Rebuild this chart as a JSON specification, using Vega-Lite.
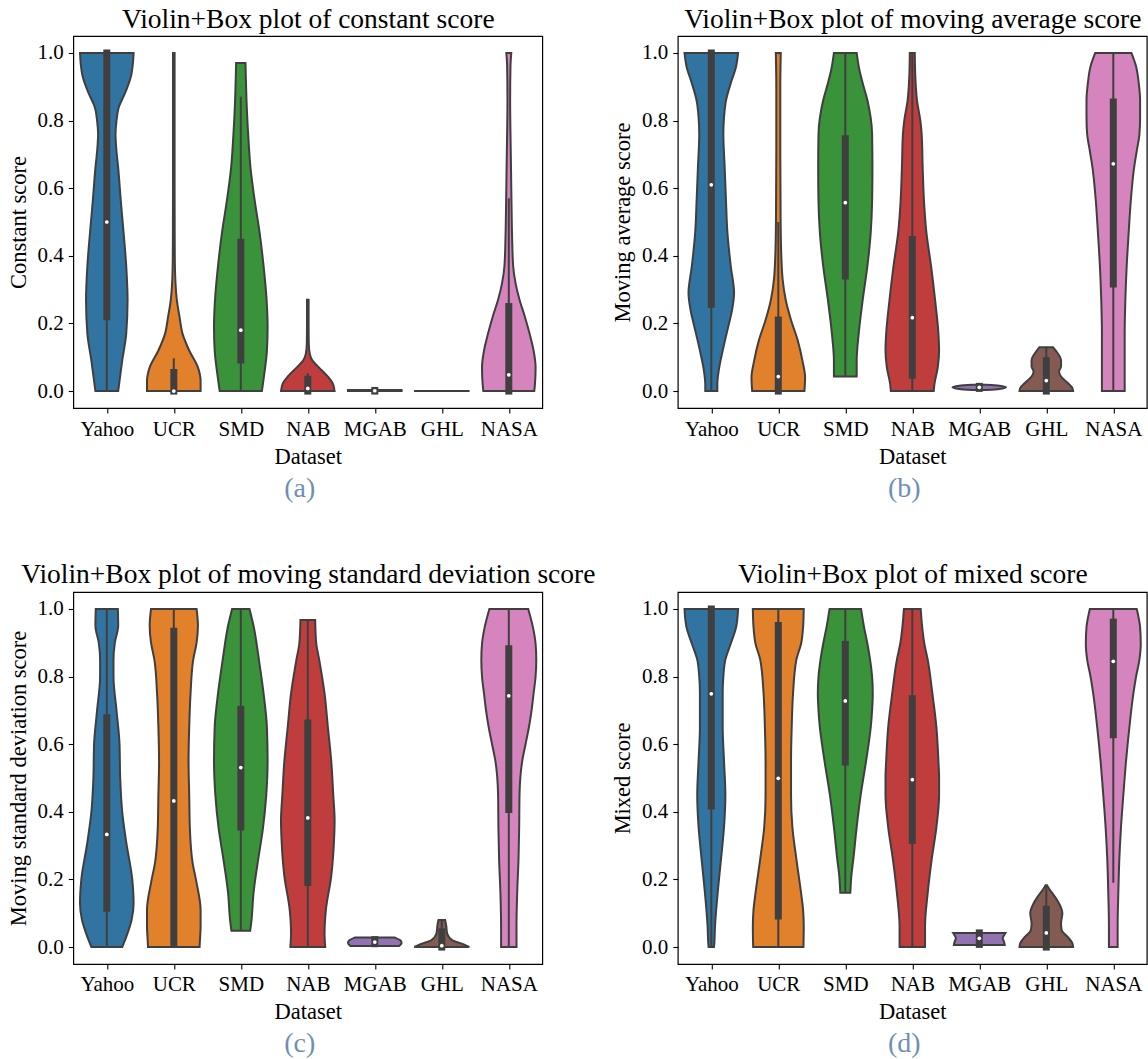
{
  "$schema": "https://vega.github.io/schema/vega-lite/v6.json",
  "padding": {"left": 6.3, "top": 4, "right": 1, "bottom": 5},
  "background": "white",
  "config": {
    "font": "Liberation Serif",
    "axis": {"labelFont": "Liberation Serif", "titleFont": "Liberation Serif", "labelFontSize": 21, "titleFontSize": 22.5, "titleFontWeight": "normal", "labelColor": "#000", "titleColor": "#000", "tickColor": "#000", "tickWidth": 1.1, "domain": false, "grid": false},
    "axisY": {"title": null},
    "view": {"stroke": "#000", "strokeWidth": 1.2}
  },
  "datasets": {
    "v": [
      {"p":"a","d":"Yahoo","y":1,"w":0.40},{"p":"a","d":"Yahoo","y":0.97,"w":0.39},{"p":"a","d":"Yahoo","y":0.93,"w":0.36},{"p":"a","d":"Yahoo","y":0.88,"w":0.27},{"p":"a","d":"Yahoo","y":0.84,"w":0.18},{"p":"a","d":"Yahoo","y":0.80,"w":0.145},{"p":"a","d":"Yahoo","y":0.76,"w":0.13},{"p":"a","d":"Yahoo","y":0.72,"w":0.14},{"p":"a","d":"Yahoo","y":0.66,"w":0.17},{"p":"a","d":"Yahoo","y":0.56,"w":0.21},{"p":"a","d":"Yahoo","y":0.47,"w":0.25},{"p":"a","d":"Yahoo","y":0.37,"w":0.29},{"p":"a","d":"Yahoo","y":0.27,"w":0.31},{"p":"a","d":"Yahoo","y":0.17,"w":0.29},{"p":"a","d":"Yahoo","y":0.09,"w":0.23},{"p":"a","d":"Yahoo","y":0.03,"w":0.19},{"p":"a","d":"Yahoo","y":0,"w":0.17},
      {"p":"a","d":"UCR","y":1,"w":0.012},{"p":"a","d":"UCR","y":0.6,"w":0.012},{"p":"a","d":"UCR","y":0.4,"w":0.015},{"p":"a","d":"UCR","y":0.32,"w":0.025},{"p":"a","d":"UCR","y":0.27,"w":0.045},{"p":"a","d":"UCR","y":0.22,"w":0.085},{"p":"a","d":"UCR","y":0.17,"w":0.13},{"p":"a","d":"UCR","y":0.12,"w":0.23},{"p":"a","d":"UCR","y":0.07,"w":0.36},{"p":"a","d":"UCR","y":0.03,"w":0.40},{"p":"a","d":"UCR","y":0,"w":0.40},
      {"p":"a","d":"SMD","y":0.97,"w":0.07},{"p":"a","d":"SMD","y":0.93,"w":0.075},{"p":"a","d":"SMD","y":0.86,"w":0.085},{"p":"a","d":"SMD","y":0.76,"w":0.11},{"p":"a","d":"SMD","y":0.66,"w":0.145},{"p":"a","d":"SMD","y":0.56,"w":0.21},{"p":"a","d":"SMD","y":0.47,"w":0.28},{"p":"a","d":"SMD","y":0.37,"w":0.34},{"p":"a","d":"SMD","y":0.27,"w":0.385},{"p":"a","d":"SMD","y":0.19,"w":0.40},{"p":"a","d":"SMD","y":0.12,"w":0.39},{"p":"a","d":"SMD","y":0.05,"w":0.35},{"p":"a","d":"SMD","y":0,"w":0.315},
      {"p":"a","d":"NAB","y":0.27,"w":0.012},{"p":"a","d":"NAB","y":0.2,"w":0.012},{"p":"a","d":"NAB","y":0.14,"w":0.015},{"p":"a","d":"NAB","y":0.11,"w":0.03},{"p":"a","d":"NAB","y":0.09,"w":0.07},{"p":"a","d":"NAB","y":0.073,"w":0.15},{"p":"a","d":"NAB","y":0.043,"w":0.30},{"p":"a","d":"NAB","y":0.024,"w":0.37},{"p":"a","d":"NAB","y":0,"w":0.40},
      {"p":"a","d":"MGAB","y":0.003,"w":0.40},{"p":"a","d":"MGAB","y":0,"w":0.40},
      {"p":"a","d":"GHL","y":0.0005,"w":0.40},{"p":"a","d":"GHL","y":0,"w":0.40},
      {"p":"a","d":"NASA","y":1,"w":0.037},{"p":"a","d":"NASA","y":0.96,"w":0.025},{"p":"a","d":"NASA","y":0.86,"w":0.02},{"p":"a","d":"NASA","y":0.7,"w":0.03},{"p":"a","d":"NASA","y":0.56,"w":0.04},{"p":"a","d":"NASA","y":0.45,"w":0.05},{"p":"a","d":"NASA","y":0.37,"w":0.065},{"p":"a","d":"NASA","y":0.32,"w":0.10},{"p":"a","d":"NASA","y":0.27,"w":0.16},{"p":"a","d":"NASA","y":0.22,"w":0.24},{"p":"a","d":"NASA","y":0.17,"w":0.31},{"p":"a","d":"NASA","y":0.12,"w":0.37},{"p":"a","d":"NASA","y":0.07,"w":0.40},{"p":"a","d":"NASA","y":0.02,"w":0.39},{"p":"a","d":"NASA","y":0,"w":0.38},

      {"p":"b","d":"Yahoo","y":1,"w":0.40},{"p":"b","d":"Yahoo","y":0.96,"w":0.37},{"p":"b","d":"Yahoo","y":0.91,"w":0.29},{"p":"b","d":"Yahoo","y":0.86,"w":0.22},{"p":"b","d":"Yahoo","y":0.81,"w":0.19},{"p":"b","d":"Yahoo","y":0.76,"w":0.18},{"p":"b","d":"Yahoo","y":0.66,"w":0.20},{"p":"b","d":"Yahoo","y":0.56,"w":0.22},{"p":"b","d":"Yahoo","y":0.47,"w":0.24},{"p":"b","d":"Yahoo","y":0.37,"w":0.29},{"p":"b","d":"Yahoo","y":0.29,"w":0.34},{"p":"b","d":"Yahoo","y":0.24,"w":0.31},{"p":"b","d":"Yahoo","y":0.18,"w":0.24},{"p":"b","d":"Yahoo","y":0.12,"w":0.17},{"p":"b","d":"Yahoo","y":0.06,"w":0.11},{"p":"b","d":"Yahoo","y":0.02,"w":0.09},{"p":"b","d":"Yahoo","y":0,"w":0.09},
      {"p":"b","d":"UCR","y":1,"w":0.037},{"p":"b","d":"UCR","y":0.9,"w":0.03},{"p":"b","d":"UCR","y":0.7,"w":0.03},{"p":"b","d":"UCR","y":0.5,"w":0.035},{"p":"b","d":"UCR","y":0.4,"w":0.045},{"p":"b","d":"UCR","y":0.33,"w":0.065},{"p":"b","d":"UCR","y":0.27,"w":0.11},{"p":"b","d":"UCR","y":0.21,"w":0.19},{"p":"b","d":"UCR","y":0.15,"w":0.29},{"p":"b","d":"UCR","y":0.09,"w":0.36},{"p":"b","d":"UCR","y":0.04,"w":0.40},{"p":"b","d":"UCR","y":0,"w":0.39},
      {"p":"b","d":"SMD","y":1,"w":0.17},{"p":"b","d":"SMD","y":0.95,"w":0.21},{"p":"b","d":"SMD","y":0.91,"w":0.26},{"p":"b","d":"SMD","y":0.86,"w":0.33},{"p":"b","d":"SMD","y":0.76,"w":0.40},{"p":"b","d":"SMD","y":0.66,"w":0.405},{"p":"b","d":"SMD","y":0.56,"w":0.40},{"p":"b","d":"SMD","y":0.47,"w":0.38},{"p":"b","d":"SMD","y":0.37,"w":0.33},{"p":"b","d":"SMD","y":0.27,"w":0.26},{"p":"b","d":"SMD","y":0.17,"w":0.20},{"p":"b","d":"SMD","y":0.09,"w":0.17},{"p":"b","d":"SMD","y":0.043,"w":0.17},
      {"p":"b","d":"NAB","y":1,"w":0.037},{"p":"b","d":"NAB","y":0.93,"w":0.045},{"p":"b","d":"NAB","y":0.86,"w":0.07},{"p":"b","d":"NAB","y":0.80,"w":0.12},{"p":"b","d":"NAB","y":0.76,"w":0.14},{"p":"b","d":"NAB","y":0.66,"w":0.155},{"p":"b","d":"NAB","y":0.56,"w":0.175},{"p":"b","d":"NAB","y":0.47,"w":0.21},{"p":"b","d":"NAB","y":0.37,"w":0.28},{"p":"b","d":"NAB","y":0.27,"w":0.34},{"p":"b","d":"NAB","y":0.17,"w":0.39},{"p":"b","d":"NAB","y":0.12,"w":0.40},{"p":"b","d":"NAB","y":0.07,"w":0.38},{"p":"b","d":"NAB","y":0.02,"w":0.33},{"p":"b","d":"NAB","y":0,"w":0.32},
      {"p":"b","d":"MGAB","y":0.019,"w":0.10},{"p":"b","d":"MGAB","y":0.016,"w":0.30},{"p":"b","d":"MGAB","y":0.011,"w":0.40},{"p":"b","d":"MGAB","y":0.006,"w":0.30},{"p":"b","d":"MGAB","y":0.003,"w":0.10},
      {"p":"b","d":"GHL","y":0.13,"w":0.10},{"p":"b","d":"GHL","y":0.112,"w":0.17},{"p":"b","d":"GHL","y":0.092,"w":0.22},{"p":"b","d":"GHL","y":0.073,"w":0.22},{"p":"b","d":"GHL","y":0.058,"w":0.19},{"p":"b","d":"GHL","y":0.043,"w":0.22},{"p":"b","d":"GHL","y":0.024,"w":0.32},{"p":"b","d":"GHL","y":0.009,"w":0.39},{"p":"b","d":"GHL","y":0,"w":0.40},
      {"p":"b","d":"NASA","y":1,"w":0.27},{"p":"b","d":"NASA","y":0.96,"w":0.34},{"p":"b","d":"NASA","y":0.91,"w":0.38},{"p":"b","d":"NASA","y":0.86,"w":0.40},{"p":"b","d":"NASA","y":0.81,"w":0.40},{"p":"b","d":"NASA","y":0.76,"w":0.39},{"p":"b","d":"NASA","y":0.71,"w":0.35},{"p":"b","d":"NASA","y":0.66,"w":0.31},{"p":"b","d":"NASA","y":0.56,"w":0.26},{"p":"b","d":"NASA","y":0.47,"w":0.23},{"p":"b","d":"NASA","y":0.37,"w":0.20},{"p":"b","d":"NASA","y":0.27,"w":0.18},{"p":"b","d":"NASA","y":0.17,"w":0.17},{"p":"b","d":"NASA","y":0.07,"w":0.17},{"p":"b","d":"NASA","y":0,"w":0.17},

      {"p":"c","d":"Yahoo","y":1,"w":0.165},{"p":"c","d":"Yahoo","y":0.95,"w":0.17},{"p":"c","d":"Yahoo","y":0.90,"w":0.12},{"p":"c","d":"Yahoo","y":0.85,"w":0.10},{"p":"c","d":"Yahoo","y":0.80,"w":0.10},{"p":"c","d":"Yahoo","y":0.70,"w":0.145},{"p":"c","d":"Yahoo","y":0.60,"w":0.19},{"p":"c","d":"Yahoo","y":0.50,"w":0.20},{"p":"c","d":"Yahoo","y":0.40,"w":0.23},{"p":"c","d":"Yahoo","y":0.31,"w":0.29},{"p":"c","d":"Yahoo","y":0.20,"w":0.38},{"p":"c","d":"Yahoo","y":0.13,"w":0.40},{"p":"c","d":"Yahoo","y":0.08,"w":0.37},{"p":"c","d":"Yahoo","y":0.03,"w":0.29},{"p":"c","d":"Yahoo","y":0,"w":0.23},
      {"p":"c","d":"UCR","y":1,"w":0.34},{"p":"c","d":"UCR","y":0.95,"w":0.36},{"p":"c","d":"UCR","y":0.90,"w":0.34},{"p":"c","d":"UCR","y":0.85,"w":0.29},{"p":"c","d":"UCR","y":0.75,"w":0.25},{"p":"c","d":"UCR","y":0.65,"w":0.23},{"p":"c","d":"UCR","y":0.55,"w":0.22},{"p":"c","d":"UCR","y":0.45,"w":0.23},{"p":"c","d":"UCR","y":0.35,"w":0.24},{"p":"c","d":"UCR","y":0.25,"w":0.28},{"p":"c","d":"UCR","y":0.19,"w":0.34},{"p":"c","d":"UCR","y":0.11,"w":0.40},{"p":"c","d":"UCR","y":0.06,"w":0.40},{"p":"c","d":"UCR","y":0.02,"w":0.39},{"p":"c","d":"UCR","y":0,"w":0.385},
      {"p":"c","d":"SMD","y":1,"w":0.13},{"p":"c","d":"SMD","y":0.95,"w":0.19},{"p":"c","d":"SMD","y":0.85,"w":0.27},{"p":"c","d":"SMD","y":0.75,"w":0.34},{"p":"c","d":"SMD","y":0.65,"w":0.39},{"p":"c","d":"SMD","y":0.55,"w":0.40},{"p":"c","d":"SMD","y":0.45,"w":0.38},{"p":"c","d":"SMD","y":0.35,"w":0.33},{"p":"c","d":"SMD","y":0.26,"w":0.26},{"p":"c","d":"SMD","y":0.16,"w":0.19},{"p":"c","d":"SMD","y":0.08,"w":0.16},{"p":"c","d":"SMD","y":0.048,"w":0.14},
      {"p":"c","d":"NAB","y":0.967,"w":0.11},{"p":"c","d":"NAB","y":0.90,"w":0.125},{"p":"c","d":"NAB","y":0.85,"w":0.17},{"p":"c","d":"NAB","y":0.75,"w":0.25},{"p":"c","d":"NAB","y":0.65,"w":0.30},{"p":"c","d":"NAB","y":0.55,"w":0.35},{"p":"c","d":"NAB","y":0.45,"w":0.38},{"p":"c","d":"NAB","y":0.375,"w":0.40},{"p":"c","d":"NAB","y":0.31,"w":0.39},{"p":"c","d":"NAB","y":0.21,"w":0.35},{"p":"c","d":"NAB","y":0.11,"w":0.27},{"p":"c","d":"NAB","y":0.04,"w":0.25},{"p":"c","d":"NAB","y":0,"w":0.26},
      {"p":"c","d":"MGAB","y":0.028,"w":0.30},{"p":"c","d":"MGAB","y":0.02,"w":0.38},{"p":"c","d":"MGAB","y":0.013,"w":0.40},{"p":"c","d":"MGAB","y":0.006,"w":0.38},{"p":"c","d":"MGAB","y":0.003,"w":0.36},
      {"p":"c","d":"GHL","y":0.08,"w":0.05},{"p":"c","d":"GHL","y":0.065,"w":0.065},{"p":"c","d":"GHL","y":0.04,"w":0.08},{"p":"c","d":"GHL","y":0.02,"w":0.16},{"p":"c","d":"GHL","y":0.009,"w":0.31},{"p":"c","d":"GHL","y":0.001,"w":0.40},{"p":"c","d":"GHL","y":0,"w":0.41},
      {"p":"c","d":"NASA","y":1,"w":0.29},{"p":"c","d":"NASA","y":0.946,"w":0.36},{"p":"c","d":"NASA","y":0.897,"w":0.40},{"p":"c","d":"NASA","y":0.85,"w":0.41},{"p":"c","d":"NASA","y":0.80,"w":0.40},{"p":"c","d":"NASA","y":0.75,"w":0.37},{"p":"c","d":"NASA","y":0.70,"w":0.34},{"p":"c","d":"NASA","y":0.65,"w":0.30},{"p":"c","d":"NASA","y":0.60,"w":0.25},{"p":"c","d":"NASA","y":0.55,"w":0.20},{"p":"c","d":"NASA","y":0.45,"w":0.16},{"p":"c","d":"NASA","y":0.355,"w":0.155},{"p":"c","d":"NASA","y":0.26,"w":0.145},{"p":"c","d":"NASA","y":0.16,"w":0.125},{"p":"c","d":"NASA","y":0.06,"w":0.115},{"p":"c","d":"NASA","y":0,"w":0.115},

      {"p":"d","d":"Yahoo","y":1,"w":0.40},{"p":"d","d":"Yahoo","y":0.946,"w":0.37},{"p":"d","d":"Yahoo","y":0.897,"w":0.29},{"p":"d","d":"Yahoo","y":0.85,"w":0.21},{"p":"d","d":"Yahoo","y":0.80,"w":0.18},{"p":"d","d":"Yahoo","y":0.75,"w":0.17},{"p":"d","d":"Yahoo","y":0.65,"w":0.17},{"p":"d","d":"Yahoo","y":0.55,"w":0.19},{"p":"d","d":"Yahoo","y":0.45,"w":0.21},{"p":"d","d":"Yahoo","y":0.355,"w":0.19},{"p":"d","d":"Yahoo","y":0.26,"w":0.145},{"p":"d","d":"Yahoo","y":0.16,"w":0.095},{"p":"d","d":"Yahoo","y":0.06,"w":0.055},{"p":"d","d":"Yahoo","y":0.01,"w":0.045},{"p":"d","d":"Yahoo","y":0,"w":0.04},
      {"p":"d","d":"UCR","y":1,"w":0.38},{"p":"d","d":"UCR","y":0.946,"w":0.37},{"p":"d","d":"UCR","y":0.897,"w":0.34},{"p":"d","d":"UCR","y":0.85,"w":0.27},{"p":"d","d":"UCR","y":0.75,"w":0.22},{"p":"d","d":"UCR","y":0.65,"w":0.20},{"p":"d","d":"UCR","y":0.55,"w":0.19},{"p":"d","d":"UCR","y":0.45,"w":0.19},{"p":"d","d":"UCR","y":0.355,"w":0.21},{"p":"d","d":"UCR","y":0.26,"w":0.27},{"p":"d","d":"UCR","y":0.16,"w":0.34},{"p":"d","d":"UCR","y":0.11,"w":0.37},{"p":"d","d":"UCR","y":0.06,"w":0.38},{"p":"d","d":"UCR","y":0,"w":0.375},
      {"p":"d","d":"SMD","y":1,"w":0.235},{"p":"d","d":"SMD","y":0.946,"w":0.28},{"p":"d","d":"SMD","y":0.897,"w":0.33},{"p":"d","d":"SMD","y":0.85,"w":0.37},{"p":"d","d":"SMD","y":0.80,"w":0.40},{"p":"d","d":"SMD","y":0.75,"w":0.41},{"p":"d","d":"SMD","y":0.70,"w":0.40},{"p":"d","d":"SMD","y":0.65,"w":0.38},{"p":"d","d":"SMD","y":0.55,"w":0.31},{"p":"d","d":"SMD","y":0.45,"w":0.23},{"p":"d","d":"SMD","y":0.355,"w":0.17},{"p":"d","d":"SMD","y":0.26,"w":0.12},{"p":"d","d":"SMD","y":0.21,"w":0.09},{"p":"d","d":"SMD","y":0.161,"w":0.075},
      {"p":"d","d":"NAB","y":1,"w":0.125},{"p":"d","d":"NAB","y":0.897,"w":0.18},{"p":"d","d":"NAB","y":0.85,"w":0.23},{"p":"d","d":"NAB","y":0.75,"w":0.30},{"p":"d","d":"NAB","y":0.65,"w":0.36},{"p":"d","d":"NAB","y":0.55,"w":0.39},{"p":"d","d":"NAB","y":0.50,"w":0.40},{"p":"d","d":"NAB","y":0.45,"w":0.40},{"p":"d","d":"NAB","y":0.355,"w":0.36},{"p":"d","d":"NAB","y":0.26,"w":0.29},{"p":"d","d":"NAB","y":0.16,"w":0.23},{"p":"d","d":"NAB","y":0.06,"w":0.19},{"p":"d","d":"NAB","y":0,"w":0.19},
      {"p":"d","d":"MGAB","y":0.042,"w":0.39},{"p":"d","d":"MGAB","y":0.035,"w":0.37},{"p":"d","d":"MGAB","y":0.026,"w":0.35},{"p":"d","d":"MGAB","y":0.015,"w":0.37},{"p":"d","d":"MGAB","y":0.006,"w":0.38},
      {"p":"d","d":"GHL","y":0.183,"w":0.01},{"p":"d","d":"GHL","y":0.17,"w":0.05},{"p":"d","d":"GHL","y":0.158,"w":0.095},{"p":"d","d":"GHL","y":0.129,"w":0.19},{"p":"d","d":"GHL","y":0.10,"w":0.24},{"p":"d","d":"GHL","y":0.07,"w":0.22},{"p":"d","d":"GHL","y":0.05,"w":0.23},{"p":"d","d":"GHL","y":0.03,"w":0.32},{"p":"d","d":"GHL","y":0.011,"w":0.39},{"p":"d","d":"GHL","y":0,"w":0.40},
      {"p":"d","d":"NASA","y":1,"w":0.35},{"p":"d","d":"NASA","y":0.946,"w":0.40},{"p":"d","d":"NASA","y":0.897,"w":0.41},{"p":"d","d":"NASA","y":0.85,"w":0.39},{"p":"d","d":"NASA","y":0.80,"w":0.34},{"p":"d","d":"NASA","y":0.75,"w":0.30},{"p":"d","d":"NASA","y":0.65,"w":0.24},{"p":"d","d":"NASA","y":0.55,"w":0.19},{"p":"d","d":"NASA","y":0.45,"w":0.15},{"p":"d","d":"NASA","y":0.355,"w":0.115},{"p":"d","d":"NASA","y":0.26,"w":0.09},{"p":"d","d":"NASA","y":0.16,"w":0.075},{"p":"d","d":"NASA","y":0.06,"w":0.065},{"p":"d","d":"NASA","y":0,"w":0.065}
    ],
    "b": [
      {"p":"a","d":"Yahoo","q1":0.22,"q3":1,"med":0.5,"lo":0,"hi":1},
      {"p":"a","d":"UCR","q1":0,"q3":0.055,"med":0,"lo":0,"hi":0.097},
      {"p":"a","d":"SMD","q1":0.092,"q3":0.44,"med":0.18,"lo":0,"hi":0.87},
      {"p":"a","d":"NAB","q1":0,"q3":0.035,"med":0.008,"lo":0,"hi":0.053},
      {"p":"a","d":"MGAB","q1":0,"q3":0.002,"med":0.001,"lo":0,"hi":0.002},
      {"p":"a","d":"NASA","q1":0,"q3":0.25,"med":0.048,"lo":0,"hi":0.57},
      {"p":"b","d":"Yahoo","q1":0.257,"q3":1,"med":0.61,"lo":0,"hi":1},
      {"p":"b","d":"UCR","q1":0,"q3":0.21,"med":0.043,"lo":0,"hi":0.5},
      {"p":"b","d":"SMD","q1":0.34,"q3":0.746,"med":0.557,"lo":0.043,"hi":1},
      {"p":"b","d":"NAB","q1":0.047,"q3":0.448,"med":0.217,"lo":0,"hi":1},
      {"p":"b","d":"MGAB","q1":0.008,"q3":0.014,"med":0.011,"lo":0.003,"hi":0.019},
      {"p":"b","d":"GHL","q1":0,"q3":0.09,"med":0.031,"lo":0,"hi":0.13},
      {"p":"b","d":"NASA","q1":0.317,"q3":0.855,"med":0.672,"lo":0,"hi":1},
      {"p":"c","d":"Yahoo","q1":0.115,"q3":0.678,"med":0.333,"lo":0,"hi":1},
      {"p":"c","d":"UCR","q1":0.011,"q3":0.934,"med":0.432,"lo":0,"hi":1},
      {"p":"c","d":"SMD","q1":0.355,"q3":0.703,"med":0.531,"lo":0.048,"hi":1},
      {"p":"c","d":"NAB","q1":0.191,"q3":0.663,"med":0.382,"lo":0,"hi":0.967},
      {"p":"c","d":"MGAB","q1":0.01,"q3":0.022,"med":0.015,"lo":0.003,"hi":0.028},
      {"p":"c","d":"GHL","q1":0,"q3":0.045,"med":0.004,"lo":0,"hi":0.08},
      {"p":"c","d":"NASA","q1":0.407,"q3":0.882,"med":0.743,"lo":0,"hi":1},
      {"p":"d","d":"Yahoo","q1":0.417,"q3":1,"med":0.749,"lo":0,"hi":1},
      {"p":"d","d":"UCR","q1":0.092,"q3":0.951,"med":0.499,"lo":0,"hi":1},
      {"p":"d","d":"SMD","q1":0.547,"q3":0.895,"med":0.728,"lo":0.161,"hi":1},
      {"p":"d","d":"NAB","q1":0.316,"q3":0.734,"med":0.495,"lo":0,"hi":1},
      {"p":"d","d":"MGAB","q1":0.008,"q3":0.042,"med":0.026,"lo":0.006,"hi":0.042},
      {"p":"d","d":"GHL","q1":0,"q3":0.112,"med":0.042,"lo":0,"hi":0.183},
      {"p":"d","d":"NASA","q1":0.628,"q3":0.961,"med":0.845,"lo":0.19,"hi":1}
    ]
  },
  "columns": 2,
  "bounds": "flush",
  "spacing": {"row": 184, "column": 135.5},
  "concat": [
    {
      "width": 469, "height": 372,
      "title": {"text": "(a)", "orient": "bottom", "color": "#6e8fb2", "fontSize": 28, "font": "Liberation Serif", "fontWeight": "normal", "offset": 7, "frame": "group", "anchor": "middle", "dx": -8},
      "layer": [
        {"data": {"name": "v"}, "transform": [{"filter": "datum.p == 'a'"}, {"calculate": "indexof(['Yahoo','UCR','SMD','NAB','MGAB','GHL','NASA'], datum.d)", "as": "i"}, {"calculate": "datum.i - datum.w", "as": "xl"}, {"calculate": "datum.i + datum.w", "as": "xr"}],
         "mark": {"type": "area", "orient": "horizontal", "interpolate": "monotone", "stroke": "#3f3f3f", "strokeWidth": 2, "opacity": 1},
         "encoding": {
           "y": {"field": "y", "type": "quantitative", "scale": {"domain": [-0.05, 1.05], "nice": false, "zero": false}, "axis": {"orient": "left", "title": "Constant score", "values": [0,0.2,0.4,0.6,0.8,1], "format": ".1f", "tickSize": 5, "labelPadding": 5, "titlePadding": 7}},
           "x": {"field": "xl", "type": "quantitative", "scale": {"domain": [-0.5, 6.5], "nice": false, "zero": false}, "axis": {"orient": "bottom", "title": "Dataset", "values": [0,1,2,3,4,5,6], "labelExpr": "['Yahoo','UCR','SMD','NAB','MGAB','GHL','NASA'][datum.value]", "tickSize": 5, "labelPadding": 5, "titlePadding": 6, "labelFlush": false, "labelOverlap": false}},
           "x2": {"field": "xr"},
           "color": {"field": "d", "type": "nominal", "scale": {"domain": ["Yahoo","UCR","SMD","NAB","MGAB","GHL","NASA"], "range": ["#3274a1","#e1812c","#3a923a","#c03d3e","#9372b2","#845b53","#d684bd"]}, "legend": null}
         }},
        {"data": {"name": "b"}, "transform": [{"filter": "datum.p == 'a'"}, {"calculate": "indexof(['Yahoo','UCR','SMD','NAB','MGAB','GHL','NASA'], datum.d)", "as": "i"}],
         "mark": {"type": "rule", "color": "#3f3f3f", "strokeWidth": 2},
         "encoding": {
           "x": {"field": "i", "type": "quantitative", "axis": {"orient": "top", "title": "Violin+Box plot of constant score", "labels": false, "ticks": false, "domain": false, "grid": false, "titleFontSize": 27.5, "titlePadding": 9, "titleBaseline": "alphabetic", "minExtent": 0, "maxExtent": 0}},
           "y": {"field": "lo", "type": "quantitative"},
           "y2": {"field": "hi"}
         }},
        {"data": {"name": "b"}, "transform": [{"filter": "datum.p == 'a'"}, {"calculate": "indexof(['Yahoo','UCR','SMD','NAB','MGAB','GHL','NASA'], datum.d)", "as": "i"}],
         "mark": {"type": "rule", "color": "#3f3f3f", "strokeWidth": 7, "strokeCap": "square"},
         "encoding": {
           "x": {"field": "i", "type": "quantitative", "axis": null},
           "y": {"field": "q1", "type": "quantitative"},
           "y2": {"field": "q3"}
         }},
        {"data": {"name": "b"}, "transform": [{"filter": "datum.p == 'a'"}, {"calculate": "indexof(['Yahoo','UCR','SMD','NAB','MGAB','GHL','NASA'], datum.d)", "as": "i"}],
         "mark": {"type": "point", "filled": true, "color": "white", "size": 14, "opacity": 1},
         "encoding": {
           "x": {"field": "i", "type": "quantitative", "axis": null},
           "y": {"field": "med", "type": "quantitative"}
         }}
      ]
    },
    {
      "width": 469, "height": 372,
      "title": {"text": "(b)", "orient": "bottom", "color": "#6e8fb2", "fontSize": 28, "font": "Liberation Serif", "fontWeight": "normal", "offset": 7, "frame": "group", "anchor": "middle", "dx": -8},
      "layer": [
        {"data": {"name": "v"}, "transform": [{"filter": "datum.p == 'b'"}, {"calculate": "indexof(['Yahoo','UCR','SMD','NAB','MGAB','GHL','NASA'], datum.d)", "as": "i"}, {"calculate": "datum.i - datum.w", "as": "xl"}, {"calculate": "datum.i + datum.w", "as": "xr"}],
         "mark": {"type": "area", "orient": "horizontal", "interpolate": "monotone", "stroke": "#3f3f3f", "strokeWidth": 2, "opacity": 1},
         "encoding": {
           "y": {"field": "y", "type": "quantitative", "scale": {"domain": [-0.05, 1.05], "nice": false, "zero": false}, "axis": {"orient": "left", "title": "Moving average score", "values": [0,0.2,0.4,0.6,0.8,1], "format": ".1f", "tickSize": 5, "labelPadding": 5, "titlePadding": 7}},
           "x": {"field": "xl", "type": "quantitative", "scale": {"domain": [-0.5, 6.5], "nice": false, "zero": false}, "axis": {"orient": "bottom", "title": "Dataset", "values": [0,1,2,3,4,5,6], "labelExpr": "['Yahoo','UCR','SMD','NAB','MGAB','GHL','NASA'][datum.value]", "tickSize": 5, "labelPadding": 5, "titlePadding": 6, "labelFlush": false, "labelOverlap": false}},
           "x2": {"field": "xr"},
           "color": {"field": "d", "type": "nominal", "scale": {"domain": ["Yahoo","UCR","SMD","NAB","MGAB","GHL","NASA"], "range": ["#3274a1","#e1812c","#3a923a","#c03d3e","#9372b2","#845b53","#d684bd"]}, "legend": null}
         }},
        {"data": {"name": "b"}, "transform": [{"filter": "datum.p == 'b'"}, {"calculate": "indexof(['Yahoo','UCR','SMD','NAB','MGAB','GHL','NASA'], datum.d)", "as": "i"}],
         "mark": {"type": "rule", "color": "#3f3f3f", "strokeWidth": 2},
         "encoding": {
           "x": {"field": "i", "type": "quantitative", "axis": {"orient": "top", "title": "Violin+Box plot of moving average score", "labels": false, "ticks": false, "domain": false, "grid": false, "titleFontSize": 27.5, "titlePadding": 9, "titleBaseline": "alphabetic", "minExtent": 0, "maxExtent": 0}},
           "y": {"field": "lo", "type": "quantitative"},
           "y2": {"field": "hi"}
         }},
        {"data": {"name": "b"}, "transform": [{"filter": "datum.p == 'b'"}, {"calculate": "indexof(['Yahoo','UCR','SMD','NAB','MGAB','GHL','NASA'], datum.d)", "as": "i"}],
         "mark": {"type": "rule", "color": "#3f3f3f", "strokeWidth": 7, "strokeCap": "square"},
         "encoding": {
           "x": {"field": "i", "type": "quantitative", "axis": null},
           "y": {"field": "q1", "type": "quantitative"},
           "y2": {"field": "q3"}
         }},
        {"data": {"name": "b"}, "transform": [{"filter": "datum.p == 'b'"}, {"calculate": "indexof(['Yahoo','UCR','SMD','NAB','MGAB','GHL','NASA'], datum.d)", "as": "i"}],
         "mark": {"type": "point", "filled": true, "color": "white", "size": 14, "opacity": 1},
         "encoding": {
           "x": {"field": "i", "type": "quantitative", "axis": null},
           "y": {"field": "med", "type": "quantitative"}
         }}
      ]
    },
    {
      "width": 469, "height": 372,
      "title": {"text": "(c)", "orient": "bottom", "color": "#6e8fb2", "fontSize": 28, "font": "Liberation Serif", "fontWeight": "normal", "offset": 7, "frame": "group", "anchor": "middle", "dx": -8},
      "layer": [
        {"data": {"name": "v"}, "transform": [{"filter": "datum.p == 'c'"}, {"calculate": "indexof(['Yahoo','UCR','SMD','NAB','MGAB','GHL','NASA'], datum.d)", "as": "i"}, {"calculate": "datum.i - datum.w", "as": "xl"}, {"calculate": "datum.i + datum.w", "as": "xr"}],
         "mark": {"type": "area", "orient": "horizontal", "interpolate": "monotone", "stroke": "#3f3f3f", "strokeWidth": 2, "opacity": 1},
         "encoding": {
           "y": {"field": "y", "type": "quantitative", "scale": {"domain": [-0.05, 1.05], "nice": false, "zero": false}, "axis": {"orient": "left", "title": "Moving standard deviation score", "values": [0,0.2,0.4,0.6,0.8,1], "format": ".1f", "tickSize": 5, "labelPadding": 5, "titlePadding": 7}},
           "x": {"field": "xl", "type": "quantitative", "scale": {"domain": [-0.5, 6.5], "nice": false, "zero": false}, "axis": {"orient": "bottom", "title": "Dataset", "values": [0,1,2,3,4,5,6], "labelExpr": "['Yahoo','UCR','SMD','NAB','MGAB','GHL','NASA'][datum.value]", "tickSize": 5, "labelPadding": 5, "titlePadding": 6, "labelFlush": false, "labelOverlap": false}},
           "x2": {"field": "xr"},
           "color": {"field": "d", "type": "nominal", "scale": {"domain": ["Yahoo","UCR","SMD","NAB","MGAB","GHL","NASA"], "range": ["#3274a1","#e1812c","#3a923a","#c03d3e","#9372b2","#845b53","#d684bd"]}, "legend": null}
         }},
        {"data": {"name": "b"}, "transform": [{"filter": "datum.p == 'c'"}, {"calculate": "indexof(['Yahoo','UCR','SMD','NAB','MGAB','GHL','NASA'], datum.d)", "as": "i"}],
         "mark": {"type": "rule", "color": "#3f3f3f", "strokeWidth": 2},
         "encoding": {
           "x": {"field": "i", "type": "quantitative", "axis": {"orient": "top", "title": "Violin+Box plot of moving standard deviation score", "labels": false, "ticks": false, "domain": false, "grid": false, "titleFontSize": 27.5, "titlePadding": 9, "titleBaseline": "alphabetic", "minExtent": 0, "maxExtent": 0}},
           "y": {"field": "lo", "type": "quantitative"},
           "y2": {"field": "hi"}
         }},
        {"data": {"name": "b"}, "transform": [{"filter": "datum.p == 'c'"}, {"calculate": "indexof(['Yahoo','UCR','SMD','NAB','MGAB','GHL','NASA'], datum.d)", "as": "i"}],
         "mark": {"type": "rule", "color": "#3f3f3f", "strokeWidth": 7, "strokeCap": "square"},
         "encoding": {
           "x": {"field": "i", "type": "quantitative", "axis": null},
           "y": {"field": "q1", "type": "quantitative"},
           "y2": {"field": "q3"}
         }},
        {"data": {"name": "b"}, "transform": [{"filter": "datum.p == 'c'"}, {"calculate": "indexof(['Yahoo','UCR','SMD','NAB','MGAB','GHL','NASA'], datum.d)", "as": "i"}],
         "mark": {"type": "point", "filled": true, "color": "white", "size": 14, "opacity": 1},
         "encoding": {
           "x": {"field": "i", "type": "quantitative", "axis": null},
           "y": {"field": "med", "type": "quantitative"}
         }}
      ]
    },
    {
      "width": 469, "height": 372,
      "title": {"text": "(d)", "orient": "bottom", "color": "#6e8fb2", "fontSize": 28, "font": "Liberation Serif", "fontWeight": "normal", "offset": 7, "frame": "group", "anchor": "middle", "dx": -8},
      "layer": [
        {"data": {"name": "v"}, "transform": [{"filter": "datum.p == 'd'"}, {"calculate": "indexof(['Yahoo','UCR','SMD','NAB','MGAB','GHL','NASA'], datum.d)", "as": "i"}, {"calculate": "datum.i - datum.w", "as": "xl"}, {"calculate": "datum.i + datum.w", "as": "xr"}],
         "mark": {"type": "area", "orient": "horizontal", "interpolate": "monotone", "stroke": "#3f3f3f", "strokeWidth": 2, "opacity": 1},
         "encoding": {
           "y": {"field": "y", "type": "quantitative", "scale": {"domain": [-0.05, 1.05], "nice": false, "zero": false}, "axis": {"orient": "left", "title": "Mixed score", "values": [0,0.2,0.4,0.6,0.8,1], "format": ".1f", "tickSize": 5, "labelPadding": 5, "titlePadding": 7}},
           "x": {"field": "xl", "type": "quantitative", "scale": {"domain": [-0.5, 6.5], "nice": false, "zero": false}, "axis": {"orient": "bottom", "title": "Dataset", "values": [0,1,2,3,4,5,6], "labelExpr": "['Yahoo','UCR','SMD','NAB','MGAB','GHL','NASA'][datum.value]", "tickSize": 5, "labelPadding": 5, "titlePadding": 6, "labelFlush": false, "labelOverlap": false}},
           "x2": {"field": "xr"},
           "color": {"field": "d", "type": "nominal", "scale": {"domain": ["Yahoo","UCR","SMD","NAB","MGAB","GHL","NASA"], "range": ["#3274a1","#e1812c","#3a923a","#c03d3e","#9372b2","#845b53","#d684bd"]}, "legend": null}
         }},
        {"data": {"name": "b"}, "transform": [{"filter": "datum.p == 'd'"}, {"calculate": "indexof(['Yahoo','UCR','SMD','NAB','MGAB','GHL','NASA'], datum.d)", "as": "i"}],
         "mark": {"type": "rule", "color": "#3f3f3f", "strokeWidth": 2},
         "encoding": {
           "x": {"field": "i", "type": "quantitative", "axis": {"orient": "top", "title": "Violin+Box plot of mixed score", "labels": false, "ticks": false, "domain": false, "grid": false, "titleFontSize": 27.5, "titlePadding": 9, "titleBaseline": "alphabetic", "minExtent": 0, "maxExtent": 0}},
           "y": {"field": "lo", "type": "quantitative"},
           "y2": {"field": "hi"}
         }},
        {"data": {"name": "b"}, "transform": [{"filter": "datum.p == 'd'"}, {"calculate": "indexof(['Yahoo','UCR','SMD','NAB','MGAB','GHL','NASA'], datum.d)", "as": "i"}],
         "mark": {"type": "rule", "color": "#3f3f3f", "strokeWidth": 7, "strokeCap": "square"},
         "encoding": {
           "x": {"field": "i", "type": "quantitative", "axis": null},
           "y": {"field": "q1", "type": "quantitative"},
           "y2": {"field": "q3"}
         }},
        {"data": {"name": "b"}, "transform": [{"filter": "datum.p == 'd'"}, {"calculate": "indexof(['Yahoo','UCR','SMD','NAB','MGAB','GHL','NASA'], datum.d)", "as": "i"}],
         "mark": {"type": "point", "filled": true, "color": "white", "size": 14, "opacity": 1},
         "encoding": {
           "x": {"field": "i", "type": "quantitative", "axis": null},
           "y": {"field": "med", "type": "quantitative"}
         }}
      ]
    }
  ]
}
